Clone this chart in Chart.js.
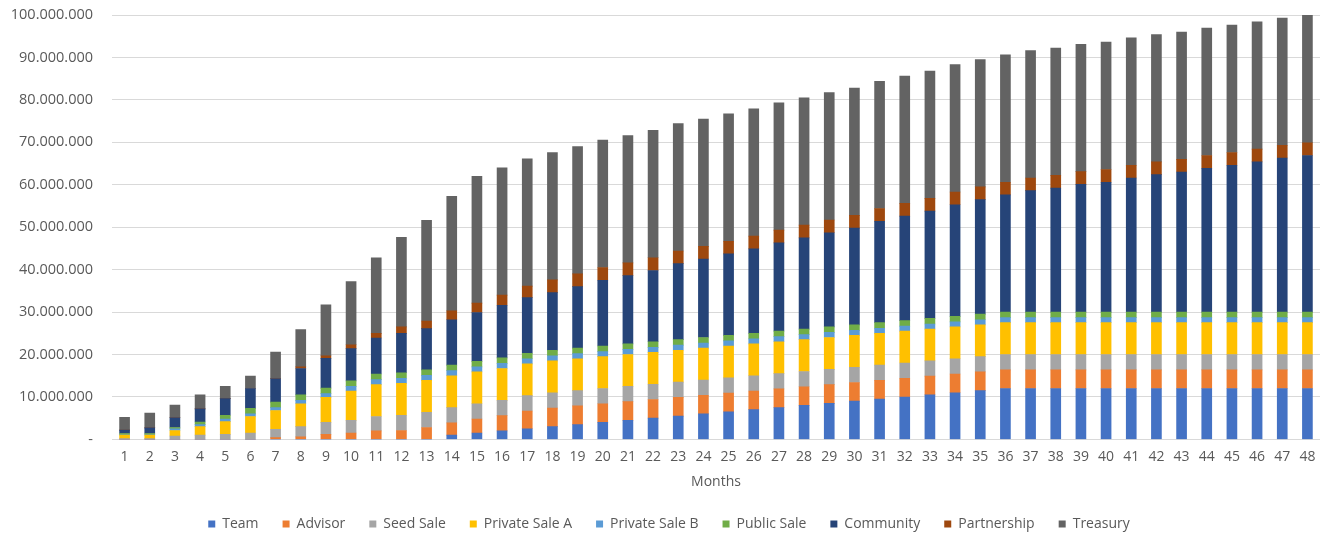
<!DOCTYPE html>
<html>
<head>
<meta charset="utf-8">
<script src="https://cdn.jsdelivr.net/npm/chart.js@4"></script>
<style>
  html, body { margin: 0; padding: 0; background: #fff; }
  #wrap { width: 1324px; height: 537px; }
</style>
</head>
<body>
<div id="wrap"><canvas id="myChart"></canvas></div>
<script>
const months = [];
for (let i = 1; i <= 48; i++) months.push(String(i));

// values in millions of tokens
const team = [0, 0, 0, 0, 0, 0, 0, 0, 0, 0, 0, 0, 0, 1.0, 1.5, 2.0, 2.5, 3.0, 3.5, 4.0, 4.5, 5.0, 5.5, 6.0,
  6.5, 7.0, 7.5, 8.0, 8.5, 9.0, 9.5, 10.0, 10.5, 11.0, 11.5, 12.0, 12.0, 12.0, 12.0, 12.0, 12.0, 12.0, 12.0, 12.0, 12.0, 12.0, 12.0, 12.0];
const advisor = [0, 0, 0, 0, 0, 0, 0.4, 0.6, 1.2, 1.5, 2.0, 2.1, 2.8, 2.9, 3.3, 3.6, 4.2, 4.4, 4.4, 4.4, 4.4, 4.4, 4.4, 4.4,
  4.4, 4.4, 4.4, 4.4, 4.4, 4.4, 4.4, 4.4, 4.4, 4.4, 4.4, 4.4, 4.4, 4.4, 4.4, 4.4, 4.4, 4.4, 4.4, 4.4, 4.4, 4.4, 4.4, 4.4];
const seedSale = [0.2, 0.2, 0.8, 1.0, 1.2, 1.5, 2.0, 2.4, 2.8, 3.0, 3.4, 3.6, 3.6, 3.6, 3.6, 3.6, 3.6, 3.6, 3.6, 3.6, 3.6, 3.6, 3.6, 3.6,
  3.6, 3.6, 3.6, 3.6, 3.6, 3.6, 3.6, 3.6, 3.6, 3.6, 3.6, 3.6, 3.6, 3.6, 3.6, 3.6, 3.6, 3.6, 3.6, 3.6, 3.6, 3.6, 3.6, 3.6];
const privateSaleA = [0.8, 0.8, 1.3, 2.0, 3.0, 3.9, 4.4, 5.4, 5.9, 6.9, 7.5, 7.5, 7.5, 7.5, 7.5, 7.5, 7.5, 7.5, 7.5, 7.5, 7.5, 7.5, 7.5, 7.5,
  7.5, 7.5, 7.5, 7.5, 7.5, 7.5, 7.5, 7.5, 7.5, 7.5, 7.5, 7.5, 7.5, 7.5, 7.5, 7.5, 7.5, 7.5, 7.5, 7.5, 7.5, 7.5, 7.5, 7.5];
const privateSaleB = [0.1, 0.1, 0.4, 0.5, 0.6, 0.6, 0.7, 0.8, 0.9, 1.1, 1.2, 1.2, 1.2, 1.2, 1.2, 1.2, 1.2, 1.2, 1.2, 1.2, 1.2, 1.2, 1.2, 1.2,
  1.2, 1.2, 1.2, 1.2, 1.2, 1.2, 1.2, 1.2, 1.2, 1.2, 1.2, 1.2, 1.2, 1.2, 1.2, 1.2, 1.2, 1.2, 1.2, 1.2, 1.2, 1.2, 1.2, 1.2];
const publicSale = [0.3, 0.3, 0.3, 0.6, 0.9, 1.3, 1.3, 1.3, 1.3, 1.3, 1.3, 1.3, 1.3, 1.3, 1.3, 1.3, 1.3, 1.3, 1.3, 1.3, 1.3, 1.3, 1.3, 1.3,
  1.3, 1.3, 1.3, 1.3, 1.3, 1.3, 1.3, 1.3, 1.3, 1.3, 1.3, 1.3, 1.3, 1.3, 1.3, 1.3, 1.3, 1.3, 1.3, 1.3, 1.3, 1.3, 1.3, 1.3];
const community = [0.8, 1.3, 2.3, 3.1, 3.9, 4.7, 5.5, 6.2, 7.0, 7.6, 8.5, 9.3, 9.7, 10.7, 11.5, 12.4, 13.1, 13.6, 14.5, 15.5, 16.1, 16.8, 17.9, 18.5,
  19.2, 19.9, 20.8, 21.5, 22.2, 22.8, 23.9, 24.6, 25.3, 26.3, 27.0, 27.6, 28.6, 29.2, 30.1, 30.6, 31.6, 32.4, 33.0, 33.9, 34.6, 35.4, 36.3, 36.9];
const partnership = [0, 0, 0, 0, 0, 0, 0, 0.4, 0.6, 0.9, 1.1, 1.5, 1.8, 2.1, 2.2, 2.4, 2.7, 3.0, 3.0, 3.0, 3.0, 3.0, 3.0, 3.0,
  3.0, 3.0, 3.0, 3.0, 3.0, 3.0, 3.0, 3.0, 3.0, 3.0, 3.0, 3.0, 3.0, 3.0, 3.0, 3.0, 3.0, 3.0, 3.0, 3.0, 3.0, 3.0, 3.0, 3.0];
const treasury = [3.0, 3.5, 3.0, 3.3, 2.9, 2.9, 6.3, 8.8, 12.0, 14.9, 17.8, 21.1, 23.7, 27.0, 29.9, 30.0, 30.0, 30.0, 30.0, 30.0, 30.0, 30.0, 30.0, 30.0,
  30.0, 30.0, 30.0, 30.0, 30.0, 30.0, 30.0, 30.0, 30.0, 30.0, 30.0, 30.0, 30.0, 30.0, 30.0, 30.0, 30.0, 30.0, 30.0, 30.0, 30.0, 30.0, 30.0, 30.0];

const M = 1000000;
const toTokens = (arr) => arr.map((v) => v * M);

const FONT = "'Open Sans', sans-serif";
const TXT = "#595959";

const series = [
  ["Team", team, "#4472C4"],
  ["Advisor", advisor, "#ED7D31"],
  ["Seed Sale", seedSale, "#A5A5A5"],
  ["Private Sale A", privateSaleA, "#FFC000"],
  ["Private Sale B", privateSaleB, "#5B9BD5"],
  ["Public Sale", publicSale, "#70AD47"],
  ["Community", community, "#264478"],
  ["Partnership", partnership, "#9E480E"],
  ["Treasury", treasury, "#636363"],
];

const data = {
  labels: months,
  datasets: series.map(([label, values, color]) => ({
    label: label,
    data: toTokens(values),
    backgroundColor: color,
    borderWidth: 0,
    barThickness: 10,
  })),
};

// the legend in the original sits a little right of centre
const nudgeLegend = {
  id: "nudgeLegend",
  afterLayout(chart) {
    chart.legend.left += 18;
  },
};

const config = {
  type: "bar",
  data: data,
  plugins: [nudgeLegend],
  options: {
    responsive: true,
    maintainAspectRatio: false,
    animation: false,
    layout: { padding: { top: 0, right: 4, left: 0, bottom: -4 } },
    scales: {
      x: {
        stacked: true,
        grid: { display: false },
        border: { display: false },
        ticks: { color: TXT, font: { family: FONT, size: 14 }, padding: 1, maxRotation: 0, autoSkip: false },
        title: {
          display: true,
          text: "Months",
          color: TXT,
          font: { family: FONT, size: 14 },
          padding: { top: 7, bottom: 3 },
        },
      },
      y: {
        stacked: true,
        min: 0,
        max: 100 * M,
        afterFit: (scale) => {
          scale.width = 112;
          scale.paddingTop = 15;
          scale.paddingBottom = 8;
        },
        grid: { color: "#D9D9D9", lineWidth: 1, drawTicks: false },
        border: { display: false },
        ticks: {
          stepSize: 10 * M,
          color: TXT,
          padding: 19,
          font: { family: FONT, size: 14.5 },
          callback: (v) => (v === 0 ? "-" : v.toLocaleString("de-DE")),
        },
      },
    },
    plugins: {
      legend: {
        position: "bottom",
        labels: {
          color: TXT,
          font: { family: FONT, size: 14 },
          boxWidth: 7,
          boxHeight: 7,
          padding: 24,
        },
      },
      tooltip: { enabled: false },
    },
  },
};

const myChart = new Chart(document.getElementById("myChart").getContext("2d"), config);
</script>
</body>
</html>
